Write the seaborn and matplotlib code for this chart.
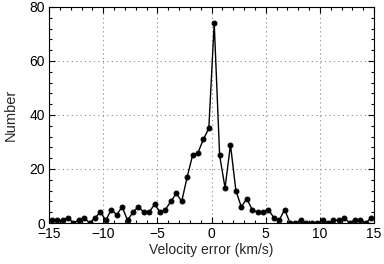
import numpy as np
import pandas as pd
import matplotlib
matplotlib.use("Agg")
import matplotlib.pyplot as plt
from matplotlib.ticker import MultipleLocator
import seaborn as sns

# Histogram of velocity errors, bin centres every 0.5 km/s
velocity_error = np.arange(-14.75, 15.0, 0.5)
number = [1, 1, 1, 2, 0, 1, 2, 0, 2, 4,
          1, 5, 3, 6, 1, 4, 6, 4, 4, 7,
          4, 5, 8, 11, 8, 17, 25, 26, 31, 35,
          74, 25, 13, 29, 12, 6, 9, 5, 4, 4,
          5, 2, 1, 5, 0, 0, 1, 0, 0, 0,
          1, 0, 1, 1, 2, 0, 1, 1, 0, 2]

df = pd.DataFrame({"Velocity": velocity_error, "Number": number})

sns.set_style("ticks")
plt.rcParams["font.family"] = ["Liberation Sans", "DejaVu Sans"]
plt.rcParams["font.size"] = 10

fig = plt.figure(figsize=(3.84, 2.64), dpi=100)
ax = fig.add_axes([0.1276, 0.1553, 0.8464, 0.8182])

sns.lineplot(data=df, x="Velocity", y="Number", ax=ax, color="black",
             marker="o", markersize=3.5, markeredgecolor="black",
             linewidth=1.0)

ax.set_xlim(-15, 15)
ax.set_ylim(0, 80)
ax.xaxis.set_major_locator(MultipleLocator(5))
ax.xaxis.set_minor_locator(MultipleLocator(1))
ax.yaxis.set_major_locator(MultipleLocator(20))
ax.yaxis.set_minor_locator(MultipleLocator(4))
ax.tick_params(which="both", direction="in", top=True, right=True,
               colors="black", labelsize=10, width=0.8)
ax.tick_params(which="major", length=4, pad=3)
ax.tick_params(which="minor", length=2)
ax.grid(True, which="major", linestyle=(0, (1, 3)), color="#888888",
        linewidth=0.8)
for s in ax.spines.values():
    s.set_linewidth(0.8)
    s.set_color("black")

ax.set_xlabel("Velocity error (km/s)", fontsize=10, labelpad=1)
ax.set_ylabel("Number", fontsize=10.5, labelpad=8)

fig.savefig("out.png", dpi=100)
